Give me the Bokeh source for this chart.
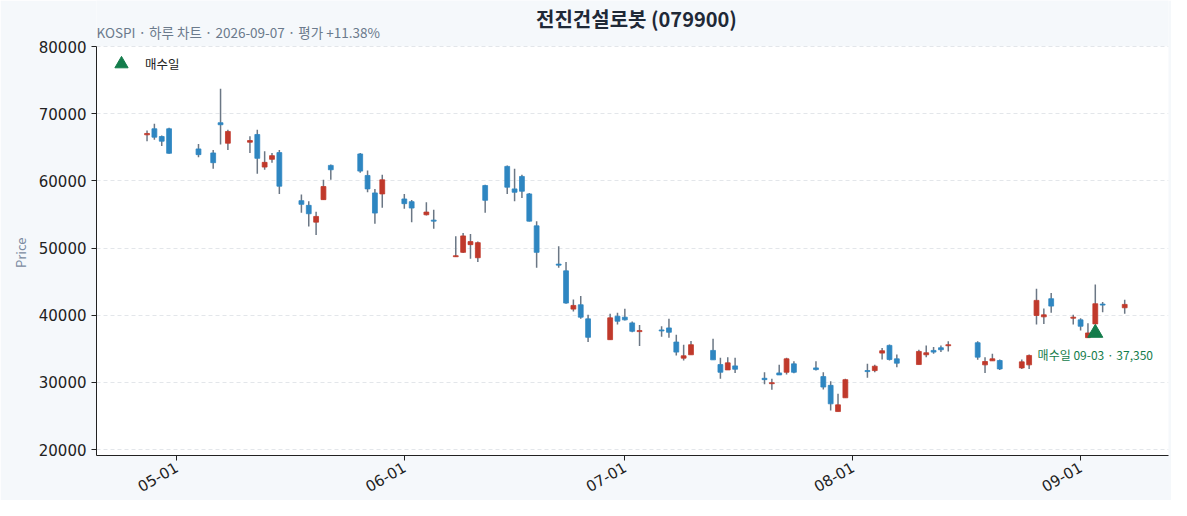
import math
import pandas as pd
from bokeh.plotting import figure
from bokeh.models import (ColumnDataSource, Range1d, FixedTicker, DatetimeTickFormatter,
                          BasicTickFormatter, Label, BoxAnnotation)
from bokeh.core.properties import value
from bokeh.embed import file_html
from bokeh.resources import INLINE

FONT = "Noto Sans CJK KR"
TICK_FONT = "DejaVu Sans"

# ---------------- data ----------------
dates = ["2026-04-27", "2026-04-28", "2026-04-29", "2026-04-30",
         "2026-05-04", "2026-05-06", "2026-05-07", "2026-05-08",
         "2026-05-11", "2026-05-12", "2026-05-13", "2026-05-14", "2026-05-15",
         "2026-05-18", "2026-05-19", "2026-05-20", "2026-05-21", "2026-05-22",
         "2026-05-26", "2026-05-27", "2026-05-28", "2026-05-29",
         "2026-06-01", "2026-06-02", "2026-06-04", "2026-06-05",
         "2026-06-08", "2026-06-09", "2026-06-10", "2026-06-11", "2026-06-12",
         "2026-06-15", "2026-06-16", "2026-06-17", "2026-06-18", "2026-06-19",
         "2026-06-22", "2026-06-23", "2026-06-24", "2026-06-25", "2026-06-26",
         "2026-06-29", "2026-06-30", "2026-07-01", "2026-07-02", "2026-07-03",
         "2026-07-06", "2026-07-07", "2026-07-08", "2026-07-09", "2026-07-10",
         "2026-07-13", "2026-07-14", "2026-07-15", "2026-07-16",
         "2026-07-20", "2026-07-21", "2026-07-22", "2026-07-23", "2026-07-24",
         "2026-07-27", "2026-07-28", "2026-07-29", "2026-07-30", "2026-07-31",
         "2026-08-03", "2026-08-04", "2026-08-05", "2026-08-06", "2026-08-07",
         "2026-08-10", "2026-08-11", "2026-08-12", "2026-08-13", "2026-08-14",
         "2026-08-18", "2026-08-19", "2026-08-20", "2026-08-21",
         "2026-08-24", "2026-08-25", "2026-08-26", "2026-08-27", "2026-08-28",
         "2026-08-31", "2026-09-01", "2026-09-02", "2026-09-03", "2026-09-04",
         "2026-09-07"]

opens = [66850, 67750, 66600, 67750,
         64750, 64150, 68650, 65600,
         65750, 66900, 62050, 63200, 64200,
         57050, 56350, 53850, 57200, 62300,
         64000, 60800, 58200, 58050,
         57300, 56900, 54950, 54150,
         48700, 49350, 50500, 48550, 59300,
         62150, 58800, 60650, 58050, 53300,
         47600, 46600, 40900, 41550, 39450,
         36350, 39850, 39700, 38850, 37550,
         37800, 38100, 36000, 33600, 34100,
         34750, 32650, 31850, 32450,
         30600, 29800, 31400, 31500, 32750,
         32150, 30850, 29550, 25650, 27700,
         31750, 31750, 34350, 35500, 33500,
         32650, 34100, 34750, 35150, 35450,
         35900, 32600, 33200, 33250,
         32150, 32600, 39950, 39750, 42450,
         39550, 39300, 36650, 38700, 41650,
         41100]

highs = [67500, 68500, 66750, 67900,
         65500, 64600, 73700, 67600,
         66650, 67600, 64400, 64150, 64600,
         57950, 56950, 55400, 60150, 62450,
         64150, 61550, 58800, 60900,
         58050, 57150, 56800, 55700,
         51750, 52250, 52100, 50950, 59400,
         62300, 61800, 60900, 58200, 54000,
         50250, 47900, 42350, 42850, 40050,
         40200, 40350, 40950, 39050, 38550,
         38350, 39450, 37100, 35600, 36150,
         36500, 33650, 33750, 33650,
         31500, 30550, 32600, 33650, 33150,
         33150, 31500, 30150, 28300, 30550,
         32750, 32600, 35100, 35650, 34150,
         34850, 35500, 35250, 35500, 36100,
         36100, 33750, 34250, 33400,
         33400, 34150, 43950, 41000, 43300,
         40050, 39550, 38800, 44550, 41950,
         42300]

lows = [65900, 66100, 65200, 64050,
        63500, 61800, 65400, 64600,
        64150, 61050, 61650, 62700, 58050,
        55250, 53200, 51950, 57150, 60150,
        61200, 58300, 53600, 56000,
        55850, 53850, 54850, 52850,
        48650, 49250, 48400, 47900, 55250,
        58050, 56950, 57450, 53950, 47050,
        47050, 41700, 40550, 39450, 36000,
        36350, 38600, 39200, 37450, 35400,
        36800, 36650, 34000, 33250, 34100,
        33350, 30550, 31850, 31400,
        29700, 28900, 31100, 31150, 31350,
        31750, 28950, 25800, 25650, 27700,
        30700, 31500, 33400, 33250, 32250,
        32650, 33750, 34250, 34500, 34600,
        33350, 31400, 33200, 31850,
        32000, 32000, 38600, 38700, 40350,
        38600, 37700, 36650, 38700, 40450,
        40200]

closes = [67050, 66500, 65900, 64100,
          63900, 62700, 68350, 67350,
          66000, 63350, 62750, 63750, 59200,
          56500, 55100, 54700, 59150, 61650,
          61450, 58800, 55200, 60150,
          56600, 55950, 55350, 54000,
          48850, 51800, 50950, 50800, 57100,
          59050, 58300, 58450, 54000, 49350,
          47450, 41800, 41450, 39700, 36700,
          39600, 39100, 39300, 37600, 37700,
          37650, 37450, 34500, 33950, 35600,
          33350, 31500, 32900, 31950,
          30400, 29950, 31100, 33500, 31500,
          31900, 29300, 26800, 26650, 30400,
          31600, 32400, 34700, 33400, 32850,
          34600, 34400, 34500, 34850, 35600,
          33750, 33100, 33500, 32000,
          33050, 34000, 42200, 40050, 41350,
          39700, 38350, 37350, 41700, 41500,
          41600]

buy_date = "2026-09-03"
buy_price = 37350
y_ticks = [20000, 30000, 40000, 50000, 60000, 70000, 80000]
x_tick_dates = ["2026-05-01", "2026-06-01", "2026-07-01", "2026-08-01", "2026-09-01"]

title_text = "전진건설로봇 (079900)"
subtitle_text = "KOSPI · 하루 차트 · 2026-09-07 · 평가 +11.38%"
legend_text = "매수일"
y_label = "Price"

# ---------------- layout constants ----------------
W, H = 1171, 500
ML, MR, MB = 96, 3, 45
FH = H - MB                      # frame reaches the top of the canvas
AX_TOP_PX = 46                   # pixel row of the y-axis top (80000)
Y_LO, Y_HI = 20000, 80000
PX_PER_UNIT = 403 / (Y_HI - Y_LO)
y_lo = Y_LO - 6 / PX_PER_UNIT
y_hi = Y_HI + AX_TOP_PX / PX_PER_UNIT
panel_top = Y_HI + 0.3 / PX_PER_UNIT
LABEL_PAD = "\u00a0" * 17        # centres the y label on the axis span, not the frame

UP, DOWN, WICK, GREEN = "#c0392b", "#2e86c1", "#6b7785", "#137c4b"
BG = "#f5f8fb"

# ---------------- build ----------------
df = pd.DataFrame(dict(date=pd.to_datetime(dates), open=opens, high=highs, low=lows, close=closes))
df["top"] = df[["open", "close"]].max(axis=1)
df["bottom"] = df[["open", "close"]].min(axis=1)
df["color"] = [UP if c >= o else DOWN for o, c in zip(df.open, df.close)]
src = ColumnDataSource(df)

DAY = 86400000
x_start = pd.Timestamp("2026-04-20 03:00")
x_end = pd.Timestamp("2026-09-12 23:00")

p = figure(width=W, height=H, x_axis_type="datetime", title=None,
           x_range=Range1d(x_start, x_end), y_range=Range1d(y_lo, y_hi),
           output_backend="svg", toolbar_location=None,
           min_border_left=ML, min_border_right=MR, min_border_top=0, min_border_bottom=MB,
           background_fill_color=BG, border_fill_color=BG)
p.outline_line_color = None

# white plotting panel below the title band
p.add_layout(BoxAnnotation(top=panel_top, fill_color="white", fill_alpha=1.0,
                           line_color=None, level="image"))

p.add_layout(Label(x=0, y=FH - 31, x_units="screen", y_units="screen", text=subtitle_text,
                   text_align="left", text_baseline="middle", text_font_size="13.5px",
                   text_font=FONT, text_color="#6b7a8c"))
p.add_layout(Label(x=540, y=FH - 18, x_units="screen", y_units="screen", text=title_text,
                   text_align="center", text_baseline="middle", text_font_size="20px",
                   text_font=FONT, text_font_style="bold", text_color="#1f2937"))

p.segment(x0="date", y0="high", x1="date", y1="low", source=src, line_color=WICK, line_width=1.5)
p.vbar(x="date", width=0.66 * DAY, top="top", bottom="bottom", source=src,
       fill_color="color", line_color="color", line_width=0.8)

bx = [pd.Timestamp(buy_date)]
p.scatter(x=bx, y=[buy_price], marker="triangle", size=15, fill_color=GREEN,
          line_color=GREEN, legend_label=legend_text)
p.text(x=bx, y=[buy_price], text=[f"매수일 {buy_date[5:]} · {buy_price:,}"],
       text_align="center", text_baseline="middle", y_offset=22,
       text_font_size="12px", text_font=value(FONT), text_color=GREEN)

# axes
p.xaxis.ticker = FixedTicker(ticks=[pd.Timestamp(d).value // 10**6 for d in x_tick_dates])
p.xaxis.formatter = DatetimeTickFormatter(days="%m-%d", months="%m-%d", years="%m-%d")
p.xaxis.major_label_orientation = math.pi / 6
p.xaxis.major_label_standoff = 5
p.yaxis.ticker = FixedTicker(ticks=y_ticks)
p.yaxis.formatter = BasicTickFormatter(use_scientific=False)
p.yaxis.bounds = (y_lo, panel_top)
p.yaxis.axis_label = y_label + LABEL_PAD
p.yaxis.axis_label_text_font_style = "normal"
p.yaxis.axis_label_text_font_size = "13px"
p.yaxis.axis_label_text_color = "#7a8aa0"
p.yaxis.axis_label_text_font = FONT
p.yaxis.axis_label_standoff = 6
for ax in (p.xaxis, p.yaxis):
    ax.major_label_text_font = TICK_FONT
    ax.major_label_text_font_size = "15px"
    ax.major_label_text_color = "#222222"
    ax.axis_line_color = "#222222"
    ax.major_tick_line_color = "#222222"
    ax.major_tick_in = 0
    ax.major_tick_out = 5
    ax.minor_tick_line_color = None
p.xgrid.grid_line_color = None
p.ygrid.grid_line_color = "#e3e6ea"
p.ygrid.grid_line_dash = "4 3"

leg = p.legend[0]
leg.location = (2, FH - 84.5)
leg.margin = 0
leg.padding = 5
leg.glyph_width = 36
leg.glyph_height = 33
leg.label_height = 20
leg.label_standoff = 6
leg.label_text_font = FONT
leg.label_text_font_size = "12.5px"
leg.label_text_color = "#222222"
leg.border_line_alpha = 0
leg.background_fill_alpha = 0

open("out.html", "w").write(file_html(p, INLINE))
